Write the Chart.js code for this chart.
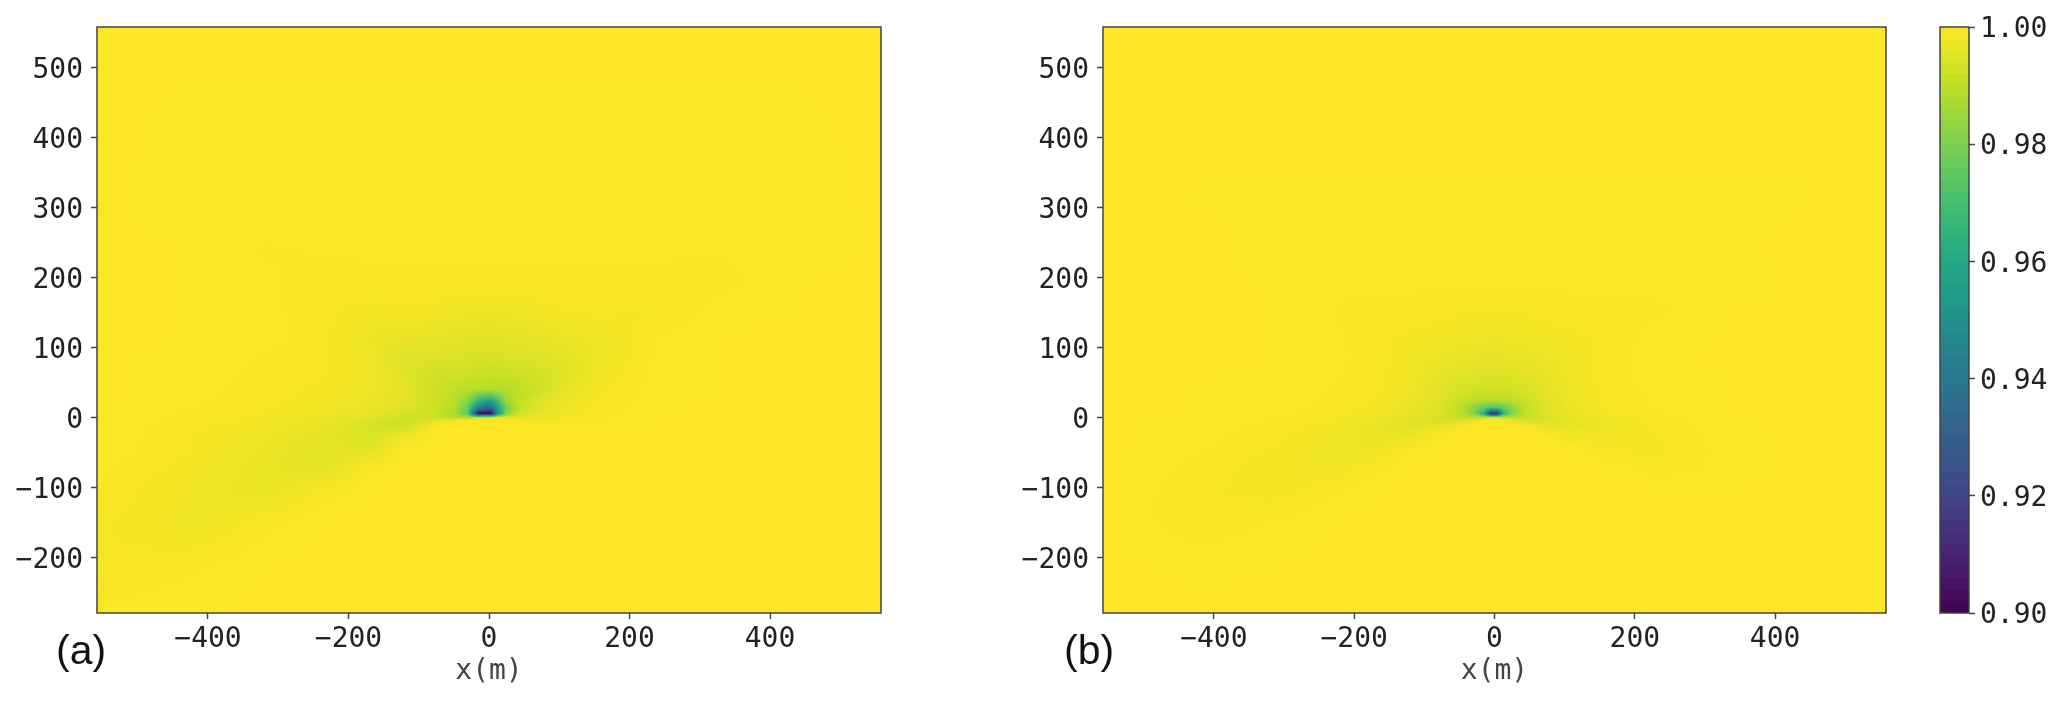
<!DOCTYPE html>
<html>
<head>
<meta charset="utf-8">
<script src="https://cdn.jsdelivr.net/npm/chart.js@4/dist/chart.umd.js"></script>
<style>
body { margin: 0; background: #fff; width: 2067px; height: 705px; position: relative; overflow: hidden; }
canvas { position: absolute; top: 0; }
.tag { position: absolute; font-family: "Liberation Sans"; font-size: 41px; color: #111; line-height: 46px; }
</style>
</head>
<body>
<canvas id="panelA" width="900" height="705" style="left:0"></canvas>
<canvas id="panelB" width="900" height="705" style="left:1000px"></canvas>
<canvas id="colorbar" width="167" height="705" style="left:1900px"></canvas>
<div class="tag" style="left:56px;top:627px">(a)</div>
<div class="tag" style="left:1064px;top:627px">(b)</div>
<script>
const axisRange = [-558, 558];
const yRange = [-279, 558];
const xTickValues = [-400, -200, 0, 200, 400];
const yTickValues = [-200, -100, 0, 100, 200, 300, 400, 500];
const barTickValues = [0.90, 0.92, 0.94, 0.96, 0.98, 1.00];

// nodes the field was read at, finer near the source
const gridX = [-558,-420,-320,-240,-170,-120,-80,-50,-30,-15,-5,3,12,25,45,75,110,160,230,320,430,558];
const gridY = [558,300,240,190,150,115,85,60,40,25,14,6,0,-4,-12,-25,-45,-70,-105,-150,-210,-279];

// 1 - value, in thousandths. one row per gridY, one column per gridX
const lossA = [
  [0,0,0,0,0,0,0,0,0,0,0,0,0,0,0,0,0,0,0,0,0,0],
  [0,.3,.3,.3,.3,.3,.3,.3,.3,.3,.3,.3,.3,.3,.3,.3,.3,.3,.3,.3,.3,0],
  [0,.1,.6,.5,.4,.4,.4,.4,.4,.4,.4,.4,.4,.4,.4,.4,.4,.4,.4,.5,.5,0],
  [0,.1,.4,.9,.8,.7,.7,.7,.8,.8,.8,.8,.8,.8,.8,.7,.7,.7,.8,.8,.1,0],
  [0,.1,.3,1,1.6,1.4,1.7,2,2.1,2.4,2.5,2.5,2.4,2.3,2,1.7,1.3,1.1,1.3,.3,.1,0],
  [0,.1,.3,.9,2.6,3.1,3.4,3.9,4.2,4.4,4.4,4.4,4.4,4.2,3.8,3.4,2.5,2.2,.6,.1,0,0],
  [0,.3,.6,1,2,5.3,5,5.3,5.6,5.8,6,6,5.8,5.6,5.3,4.8,4.2,2.1,.6,.1,0,0],
  [0,.3,.7,1.1,2,4.2,7.3,7.3,7.7,8.1,8.4,8.4,8.4,8.1,7.6,6.3,4.5,1.7,.4,.1,0,0],
  [0,.4,.8,1.4,2.2,4.2,7,9.8,10.5,11.2,11.9,11.9,11.9,11.2,9.8,7,3.5,1.4,.4,.1,0,0],
  [0,.4,1,1.5,2.5,4.2,7,9.8,18,32,38,38,30,14,8.4,4.9,2.8,1.1,.4,.1,0,0],
  [0,.6,1.1,1.7,2.8,4.9,7,11,24,55,65,65,45,20,8.4,4.2,2.1,.8,.3,0,0,0],
  [0,.7,1.3,2,3.5,5.6,7.7,13,25,98,100,100,50,17,5.6,3.5,1.7,.7,.3,0,0,0],
  [0,.8,1.4,2.5,4.2,7,8.4,9.8,9.8,7,4.2,2.1,2.1,2.8,3.5,2.8,1.4,.6,.1,0,0,0],
  [0,.9,1.6,2.8,4.9,7.7,4.2,1.4,.4,.1,0,0,0,0,.8,1.4,1.1,.6,.1,0,0,0],
  [0,1,1.8,3,5.6,7.7,.7,.1,0,0,0,0,0,0,0,.1,.3,.4,.1,0,0,0],
  [0,1.2,2.2,3.8,5.6,2.1,.3,0,0,0,0,0,0,0,0,0,0,0,0,0,0,0],
  [.1,1.2,2.6,4.2,4.2,.4,.1,0,0,0,0,0,0,0,0,0,0,0,0,0,0,0],
  [.3,1.6,3,4.2,.8,.1,0,0,0,0,0,0,0,0,0,0,0,0,0,0,0,0],
  [.6,2,3,1.1,.1,0,0,0,0,0,0,0,0,0,0,0,0,0,0,0,0,0],
  [1,2.2,.8,.1,0,0,0,0,0,0,0,0,0,0,0,0,0,0,0,0,0,0],
  [1.2,.7,.1,0,0,0,0,0,0,0,0,0,0,0,0,0,0,0,0,0,0,0],
  [.4,.1,0,0,0,0,0,0,0,0,0,0,0,0,0,0,0,0,0,0,0,0],
];

const lossB = [
  [0,0,0,0,0,0,0,0,0,0,0,0,0,0,0,0,0,0,0,0,0,0],
  [0,.1,.1,.1,.1,.1,.1,.1,.1,.1,.1,.1,.1,.1,.1,.1,.1,.1,.1,.1,.1,0],
  [0,0,.2,.2,.2,.2,.2,.2,.2,.2,.2,.2,.2,.2,.2,.2,.2,.2,.2,.2,0,0],
  [0,0,.1,.5,.4,.4,.5,.5,.5,.5,.5,.5,.5,.5,.5,.5,.4,.4,.4,.4,0,0],
  [0,0,.1,.5,.8,.8,1,1.2,1.3,1.4,1.4,1.4,1.4,1.3,1.2,1,.8,.7,.7,.1,0,0],
  [0,0,.1,.3,1,1.4,1.7,2,2.2,2.3,2.3,2.3,2.3,2.2,2,1.7,1.4,1,.3,.1,0,0],
  [0,0,.1,.3,.8,2,2.6,3,3.2,3.4,3.5,3.5,3.4,3.2,3,2.6,1.9,.8,.2,0,0,0],
  [0,.1,.1,.4,.9,2,3.5,4.5,4.8,5,5,5,5,4.8,4.5,3.5,2,.8,.3,.1,0,0],
  [0,.1,.2,.5,1,2.2,4,6,6.5,7,7,7,7,6.5,6,4,2.2,1,.4,.1,0,0],
  [0,.1,.3,.6,1.2,2.5,4.5,7.5,10,11,11,11,11,10,7.5,4.5,2.5,1,.4,.1,0,0],
  [0,.1,.3,.7,1.5,3,5,8.5,18,24,27,27,24,18,8,4.5,2.5,1.1,.5,.1,0,0],
  [0,.1,.4,.8,1.8,3.5,5.5,9,18,38,88,88,38,18,9,5,3,1.4,.6,.2,0,0],
  [0,.2,.5,1,2.2,4,6,8,9,8,2,2,8,9,8,5.5,3.5,1.8,.8,.2,0,0],
  [0,.2,.6,1.2,2.5,4.5,6,6,3,.3,0,0,.3,3,6,5.5,3.8,2,.9,.2,0,0],
  [0,.3,.7,1.5,3,4.5,3.5,.5,.1,0,0,0,0,.1,.5,3,3.8,2.2,1,.2,0,0],
  [0,.3,.9,1.8,3,3,.5,.1,0,0,0,0,0,0,.1,.5,2,2.2,1.2,.3,0,0],
  [0,.5,1.2,2.2,2.6,.6,.1,0,0,0,0,0,0,0,0,0,.2,1.5,1.4,.4,0,0],
  [0,.7,1.6,2.2,.8,.1,0,0,0,0,0,0,0,0,0,0,0,.2,1,.4,0,0],
  [0,1,1.6,.8,.1,0,0,0,0,0,0,0,0,0,0,0,0,0,.1,.1,0,0],
  [0,1,.5,.1,0,0,0,0,0,0,0,0,0,0,0,0,0,0,0,0,0,0],
  [0,.2,.1,0,0,0,0,0,0,0,0,0,0,0,0,0,0,0,0,0,0,0],
  [0,0,0,0,0,0,0,0,0,0,0,0,0,0,0,0,0,0,0,0,0,0],
];

const barLevels = [.9,.902,.904,.906,.908,.91,.912,.914,.916,.918,.92,.922,.924,.926,.928,.93,.932,.934,.936,.938,.94,.942,.944,.946,.948,.95,.952,.954,.956,.958,.96,.962,.964,.966,.968,.97,.972,.974,.976,.978,.98,.982,.984,.986,.988,.99,.992,.994,.996,.998];

const viridisStops = [[68,1,84],[72,36,117],[65,68,135],[53,95,141],[42,120,142],[33,145,140],[34,168,132],[68,191,112],[122,209,81],[189,223,38],[253,231,37]];

const fontFamily = '"DejaVu Sans Mono", monospace';
const frameColor = '#444';
const textColor = '#222';

function viridis(v) {
    let t = Math.min(Math.max((v - 0.9) / 0.1, 0), 1) * 10;
    let i = Math.min(Math.floor(t), 9);
    let f = t - i;
    let a = viridisStops[i], b = viridisStops[i + 1];
    return [a[0] + (b[0] - a[0]) * f, a[1] + (b[1] - a[1]) * f, a[2] + (b[2] - a[2]) * f];
}

function findCell(list, p) {
    let i = 0;
    while (i < list.length - 2 && p > list[i + 1]) i++;
    let span = list[i + 1] - list[i];
    return [i, span ? Math.min(Math.max((p - list[i]) / span, 0), 1) : 0];
}

// paints the field between the nodes the scales have placed
const fieldPlugin = {
    id: 'field',
    beforeDatasetsDraw(chart) {
        let pts = chart.getDatasetMeta(0).data;
        let raw = chart.data.datasets[0].data;
        let nx = gridX.length;
        let px = gridX.map((_, i) => pts[i].x);
        let py = gridY.map((_, j) => pts[j * nx].y);
        let area = chart.chartArea;
        let left = Math.round(area.left), top = Math.round(area.top);
        let w = Math.round(area.right) - left, h = Math.round(area.bottom) - top;
        let img = chart.ctx.createImageData(w, h);
        for (let y = 0; y < h; y++) {
            let [j, fy] = findCell(py, top + y + 0.5);
            for (let x = 0; x < w; x++) {
                let [i, fx] = findCell(px, left + x + 0.5);
                let a = raw[j * nx + i].v, b = raw[j * nx + i + 1].v;
                let c = raw[(j + 1) * nx + i].v, d = raw[(j + 1) * nx + i + 1].v;
                let v = (a * (1 - fx) + b * fx) * (1 - fy) + (c * (1 - fx) + d * fx) * fy;
                let rgb = viridis(v);
                let o = (y * w + x) * 4;
                img.data[o] = rgb[0];
                img.data[o + 1] = rgb[1];
                img.data[o + 2] = rgb[2];
                img.data[o + 3] = 255;
            }
        }
        chart.ctx.putImageData(img, left, top);
    }
};

const framePlugin = {
    id: 'frame',
    afterDraw(chart) {
        let a = chart.chartArea;
        let ctx = chart.ctx;
        ctx.save();
        ctx.strokeStyle = frameColor;
        ctx.lineWidth = 1.5;
        ctx.strokeRect(a.left, a.top, a.right - a.left, a.bottom - a.top);
        ctx.restore();
    }
};

function tickStyle() {
    return { drawOnChartArea: false, drawTicks: true, tickLength: 6, tickColor: frameColor, tickWidth: 1.5 };
}

function minusSign(v) {
    return String(v).replace('-', '\u2212');
}

function makePanel(id, loss, plotLeft, rightPad) {
    let points = [];
    gridY.forEach((y, j) => gridX.forEach((x, i) => points.push({ x: x, y: y, v: 1 - loss[j][i] / 1000 })));
    return new Chart(document.getElementById(id), {
        type: 'scatter',
        data: { datasets: [{ data: points, pointRadius: 0, pointHoverRadius: 0 }] },
        plugins: [fieldPlugin, framePlugin],
        options: {
            responsive: false,
            animation: false,
            layout: { padding: { top: 27, right: rightPad, bottom: 16, left: 0 } },
            plugins: { legend: { display: false }, tooltip: { enabled: false } },
            scales: {
                x: {
                    type: 'linear', min: axisRange[0], max: axisRange[1],
                    afterBuildTicks: s => { s.ticks = xTickValues.map(v => ({ value: v })); },
                    afterFit: s => { s.height = 76; },
                    grid: tickStyle(),
                    border: { display: false },
                    ticks: { padding: 4, maxRotation: 0, autoSkip: false, color: textColor, font: { family: fontFamily, size: 28 }, callback: minusSign },
                    title: { display: true, text: 'x(m)', color: '#444', padding: 0, font: { family: fontFamily, size: 28 } }
                },
                y: {
                    type: 'linear', min: yRange[0], max: yRange[1],
                    afterBuildTicks: s => { s.ticks = yTickValues.map(v => ({ value: v })); },
                    afterFit: s => { s.width = plotLeft; },
                    grid: tickStyle(),
                    border: { display: false },
                    ticks: { padding: 8, labelOffset: 3, autoSkip: false, color: textColor, font: { family: fontFamily, size: 28 }, callback: minusSign }
                }
            }
        }
    });
}

makePanel('panelA', lossA, 97, 19);
makePanel('panelB', lossB, 103, 14);

// bars overlap upward, so the highest level has to sit on top
new Chart(document.getElementById('colorbar'), {
    type: 'bar',
    data: {
        labels: [''],
        datasets: barLevels.map((lv, i) => ({
            data: [[lv, 1]],
            backgroundColor: 'rgb(' + viridis(lv + 0.001).join(',') + ')',
            grouped: false, barPercentage: 1, categoryPercentage: 1, borderWidth: 0,
            order: barLevels.length - i
        }))
    },
    plugins: [framePlugin],
    options: {
        responsive: false,
        animation: false,
        layout: { padding: { top: 27, right: 0, bottom: 92, left: 40 } },
        plugins: { legend: { display: false }, tooltip: { enabled: false } },
        scales: {
            x: { display: false },
            y: {
                position: 'right', min: 0.9, max: 1,
                afterBuildTicks: s => { s.ticks = barTickValues.map(v => ({ value: v })); },
                afterFit: s => { s.width = 98; },
                grid: tickStyle(),
                border: { display: false },
                ticks: { padding: 5, labelOffset: 3, autoSkip: false, color: textColor, font: { family: fontFamily, size: 28 }, callback: v => v.toFixed(2) }
            }
        }
    }
});
</script>
</body>
</html>
